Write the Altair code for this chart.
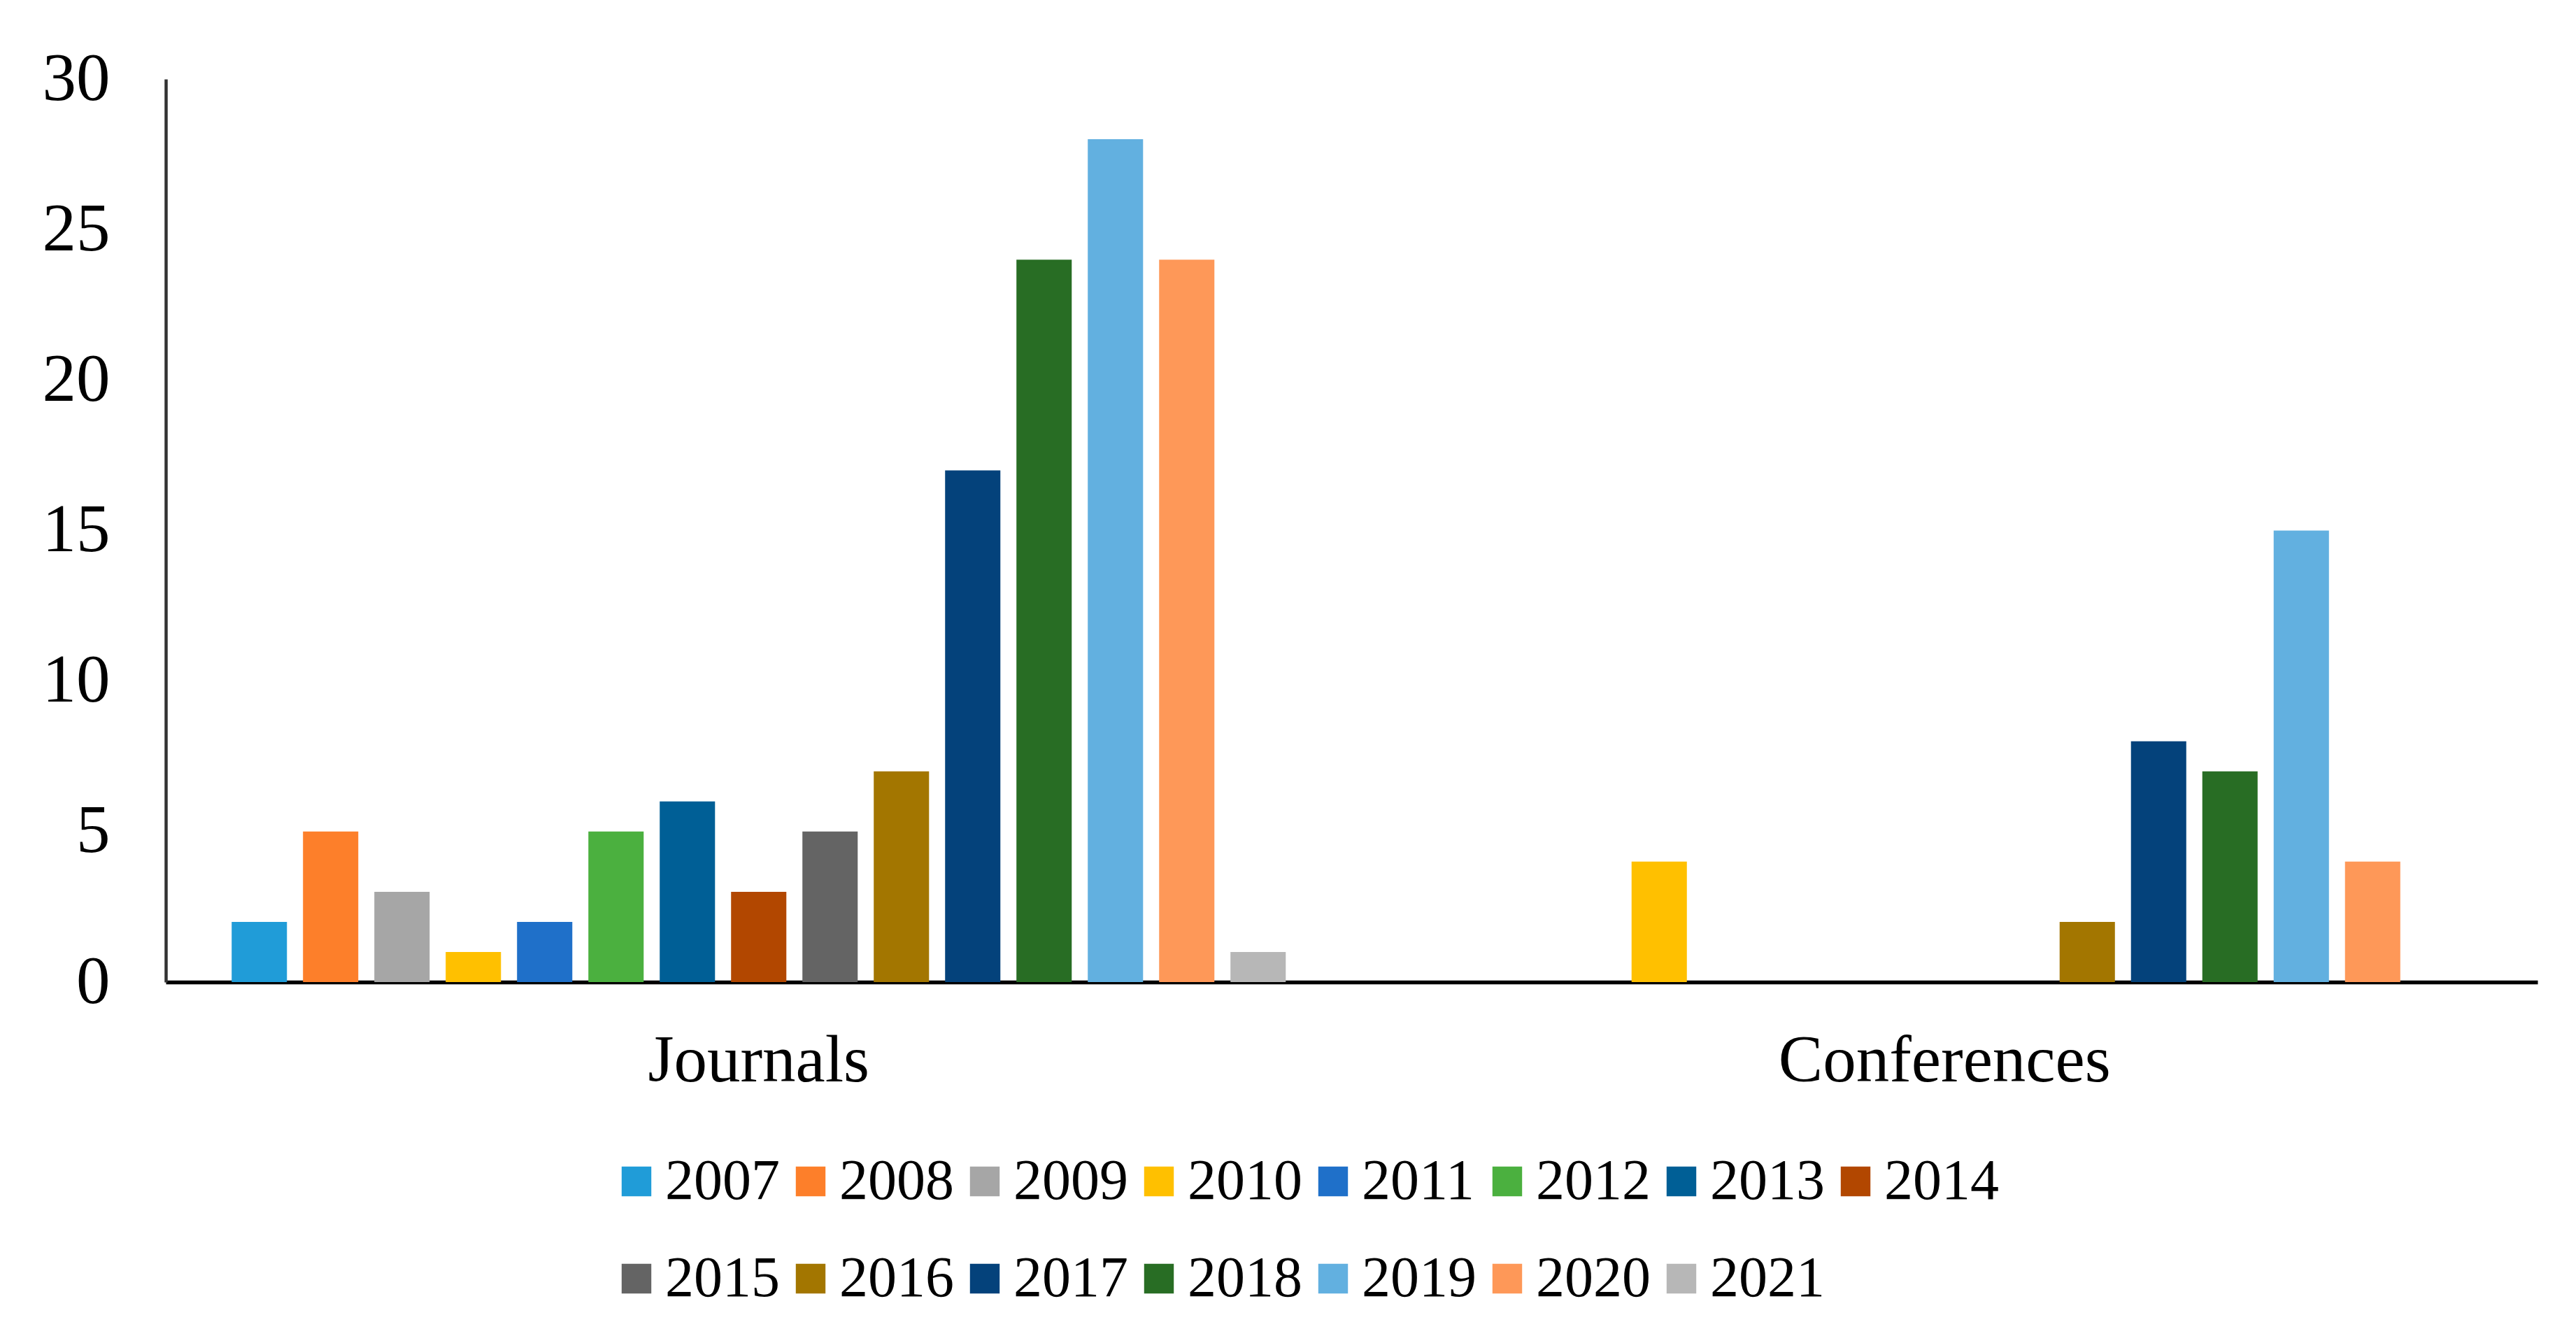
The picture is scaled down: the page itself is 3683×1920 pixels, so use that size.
import altair as alt
import pandas as pd

categories = ["Journals", "Conferences"]
years = ["2007", "2008", "2009", "2010", "2011", "2012", "2013", "2014",
         "2015", "2016", "2017", "2018", "2019", "2020", "2021"]
journals = [2, 5, 3, 1, 2, 5, 6, 3, 5, 7, 17, 24, 28, 24, 1]
conferences = [0, 0, 0, 4, 0, 0, 0, 0, 0, 2, 8, 7, 15, 4, 0]
colors = ["#209CD8", "#FD7F2A", "#A6A6A6", "#FFC000", "#1F70C9", "#4BB03F",
          "#005F96", "#B24700", "#646464", "#A37600", "#04427B", "#286D24",
          "#62B0E0", "#FE9858", "#B7B7B7"]
y_ticks = [0, 5, 10, 15, 20, 25, 30]

rows = []
for cat, vals in zip(categories, [journals, conferences]):
    for yr, v in zip(years, vals):
        rows.append({"category": cat, "year": yr, "value": v})
df = pd.DataFrame(rows)

FONT = "Liberation Serif"

chart = alt.Chart(df).mark_bar().encode(
    x=alt.X("category:N", sort=categories,
            scale=alt.Scale(paddingInner=0.0976, paddingOuter=0.0488),
            axis=alt.Axis(title=None, labelAngle=0, ticks=False, tickSize=0,
                          labelFont=FONT, labelFontSize=95, labelColor="#000000",
                          labelBaseline="alphabetic", labelPadding=141,
                          labelLimit=2000,
                          domainColor="#000000", domainWidth=5.5, grid=False)),
    xOffset=alt.XOffset("year:N", sort=years,
                        scale=alt.Scale(paddingInner=0.225, paddingOuter=0.1125)),
    y=alt.Y("value:Q",
            scale=alt.Scale(domain=[0, 30], nice=False),
            axis=alt.Axis(title=None, values=y_ticks, ticks=False, tickSize=0,
                          labelFont=FONT, labelFontSize=97, labelColor="#000000",
                          labelPadding=80, domainColor="#333333", domainWidth=4.5,
                          grid=False)),
    color=alt.Color("year:N", sort=years,
                    scale=alt.Scale(domain=years, range=colors),
                    legend=alt.Legend(title=None, orient="none", legendX=632, legendY=1535,
                                      direction="horizontal", columns=8,
                                      symbolType="square", symbolSize=1800,
                                      symbolStrokeWidth=0, symbolOpacity=1,
                                      labelFont=FONT, labelFontSize=82,
                                      labelColor="#000000", labelOffset=0,
                                      columnPadding=3, rowPadding=57, padding=0,
                                      labelLimit=400)),
).properties(
    width=3391,
    height=1291,
    autosize=alt.AutoSizeParams(type="none"),
    padding={"left": 229, "top": 105, "right": 40, "bottom": 480},
).configure_view(stroke=None)

chart.save("out.html", embed_options={"renderer": "svg", "actions": False})
